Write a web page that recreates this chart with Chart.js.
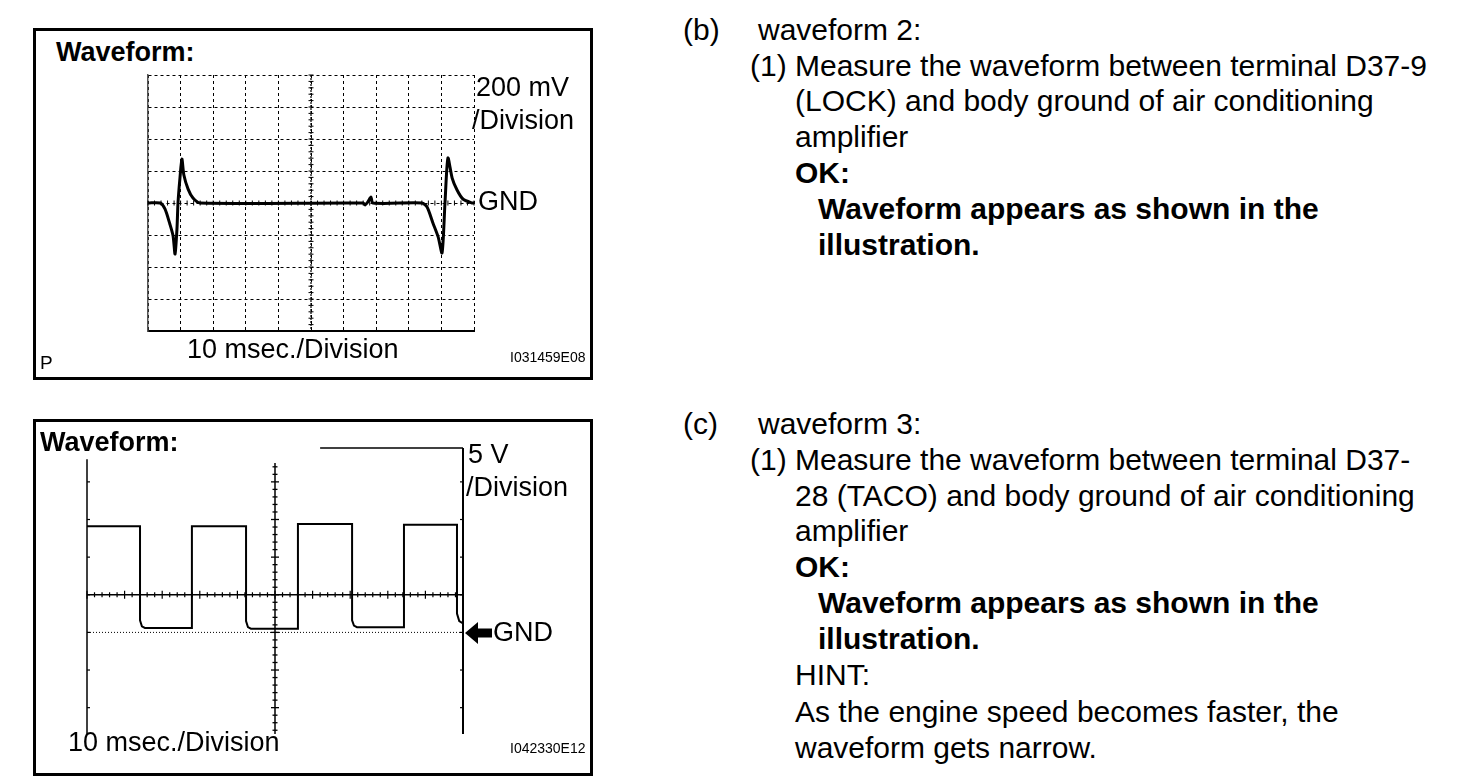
<!DOCTYPE html>
<html>
<head>
<meta charset="utf-8">
<script src="https://cdn.jsdelivr.net/npm/chart.js@4.4.1/dist/chart.umd.min.js"></script>
<style>
	html, body { margin: 0; padding: 0; background: #fff; }
	body { width: 1472px; height: 784px; position: relative; overflow: hidden; font-family: "Liberation Sans", Arial, sans-serif; color: #000; }
	.box { position: absolute; border: 3px solid #000; box-sizing: border-box; }
	.t { position: absolute; white-space: nowrap; line-height: 1; }
	.b { font-weight: bold; }
	.lbl { font-size: 27px; }
	.rt { font-size: 30px; }
	.code { font-size: 14px; }
	canvas { position: absolute; }
</style>
</head>
<body>

<div class="box" style="left:33px; top:28px; width:560px; height:352px;"></div>
<div class="box" style="left:33px; top:419px; width:560px; height:357px;"></div>

<canvas id="chart2" width="342" height="272" style="left:140px; top:67px;"></canvas>
<canvas id="chart3" width="392" height="302" style="left:79px; top:440px;"></canvas>

<!-- labels, waveform 2 box -->
<div class="t lbl b" style="left:56px; top:39px;">Waveform:</div>
<div class="t lbl" style="left:476px; top:74px;">200 mV</div>
<div class="t lbl" style="left:472px; top:107px;">/Division</div>
<div class="t lbl" style="left:478px; top:188px;">GND</div>
<div class="t lbl" style="left:187px; top:336px;">10 msec./Division</div>
<div class="t" style="left:40px; top:353px; font-size:19px;">P</div>
<div class="t code" style="left:510px; top:350px;">I031459E08</div>

<!-- labels, waveform 3 box -->
<div class="t lbl b" style="left:40px; top:429px;">Waveform:</div>
<div class="t lbl" style="left:468px; top:441px;">5 V</div>
<div class="t lbl" style="left:466px; top:474px;">/Division</div>
<svg style="position:absolute; left:464px; top:620px;" width="30" height="26">
	<polygon points="1,13 14,2 14,8.5 28,8.5 28,17.5 14,17.5 14,24" fill="#000"/>
</svg>
<div class="t lbl" style="left:493px; top:619px;">GND</div>
<div class="t lbl" style="left:68px; top:729px;">10 msec./Division</div>
<div class="t code" style="left:510px; top:741px;">I042330E12</div>

<!-- text column -->
<div class="t rt" style="left:683px; top:15px;">(b)</div>
<div class="t rt" style="left:758px; top:15px;">waveform 2:</div>
<div class="t rt" style="left:750px; top:51px;">(1)</div>
<div class="t rt" style="left:795px; top:51px;">Measure the waveform between terminal D37-9</div>
<div class="t rt" style="left:795px; top:86px;">(LOCK) and body ground of air conditioning</div>
<div class="t rt" style="left:795px; top:122px;">amplifier</div>
<div class="t rt b" style="left:795px; top:158px;">OK:</div>
<div class="t rt b" style="left:818px; top:194px;">Waveform appears as shown in the</div>
<div class="t rt b" style="left:818px; top:230px;">illustration.</div>

<div class="t rt" style="left:683px; top:409px;">(c)</div>
<div class="t rt" style="left:758px; top:409px;">waveform 3:</div>
<div class="t rt" style="left:750px; top:445px;">(1)</div>
<div class="t rt" style="left:795px; top:445px;">Measure the waveform between terminal D37-</div>
<div class="t rt" style="left:795px; top:481px;">28 (TACO) and body ground of air conditioning</div>
<div class="t rt" style="left:795px; top:516px;">amplifier</div>
<div class="t rt b" style="left:795px; top:552px;">OK:</div>
<div class="t rt b" style="left:818px; top:588px;">Waveform appears as shown in the</div>
<div class="t rt b" style="left:818px; top:624px;">illustration.</div>
<div class="t rt" style="left:795px; top:660px;">HINT:</div>
<div class="t rt" style="left:795px; top:697px;">As the engine speed becomes faster, the</div>
<div class="t rt" style="left:795px; top:733px;">waveform gets narrow.</div>

<script>
'use strict';

// waveform 2 (LOCK): time in msec, voltage in mV
var lockTime = [0, 3.7, 5.2, 6.7, 7.7, 8.3, 8.9, 9.2, 9.8, 10.4, 11.0, 12.3, 13.8, 16.0,
	66.0, 66.6, 67.4, 68.4, 69.0, 84.0, 85.6, 87.4, 89.0, 90.2, 91.1, 92.0, 93.3, 94.8, 96.6, 99.4, 100];
var lockMv = [0, 0, -37, -131, -206, -319, -156, 0, 156, 275, 175, 87, 31, 0,
	0, -12, 5, 37, 0, 0, -25, -125, -212, -312, 0, 281, 156, 81, 25, 0, 0];

// waveform 3 (TACO): time in msec, voltage in V
var tacoTime = [0, 14.1, 14.1, 14.6, 15.4, 27.9, 27.9,
	42.3, 42.3, 42.8, 43.6, 56.1, 56.1,
	70.5, 70.5, 71.0, 71.8, 84.3, 84.3,
	98.4, 98.4, 99.0, 100];
var tacoV = [14.1, 14.1, 1.6, 0.8, 0.6, 0.6, 14.1,
	14.1, 1.5, 0.7, 0.5, 0.5, 14.4,
	14.4, 1.6, 0.9, 0.7, 0.7, 14.3,
	14.3, 2.5, 1.5, 1.2];

// scale settings (divisions)
var msPerDiv = 10;
var mvPerDiv = 200;
var vPerDiv = 5;

function toPoints(xs, ys) {
	var pts = [];
	for (var i = 0; i < xs.length; i++) pts.push({x: xs[i], y: ys[i]});
	return pts;
}

function line(ctx, x1, y1, x2, y2, w, dash) {
	ctx.save();
	ctx.lineWidth = w;
	ctx.strokeStyle = '#000';
	ctx.setLineDash(dash || []);
	ctx.beginPath();
	ctx.moveTo(x1, y1);
	ctx.lineTo(x2, y2);
	ctx.stroke();
	ctx.restore();
}

// little tick marks on the centre lines of the top scope screen
var centreTicks = {
	id: 'centreTicks',
	beforeDatasetsDraw: function (chart) {
		var ctx = chart.ctx, x = chart.scales.x, y = chart.scales.y;
		var cx = x.getPixelForValue(50), cy = y.getPixelForValue(0);
		line(ctx, cx, y.top, cx, y.bottom, 1.2, [2, 1]);
		for (var v = y.min; v <= y.max; v += mvPerDiv / 5) {
			var py = y.getPixelForValue(v);
			line(ctx, cx - 2.5, py, cx + 2.5, py, 1);
		}
		for (var t = x.min; t <= x.max; t += msPerDiv / 5) {
			var px = x.getPixelForValue(t);
			line(ctx, px, cy - 2.5, px, cy + 2.5, 1);
		}
	}
};

var chart2 = new Chart(document.getElementById('chart2').getContext('2d'), {
	type: 'line',
	data: {
		datasets: [{
			data: toPoints(lockTime, lockMv),
			borderColor: '#000',
			borderWidth: 3,
			pointRadius: 0,
			tension: 0.25,
			fill: false
		}]
	},
	options: {
		responsive: false,
		animation: false,
		layout: { padding: 8 },
		plugins: { legend: { display: false }, tooltip: { enabled: false } },
		scales: {
			x: {
				type: 'linear', min: 0, max: 100,
				ticks: { display: false, stepSize: msPerDiv },
				grid: { color: '#000', lineWidth: 1, drawTicks: false },
				border: { display: true, color: '#000', width: 2, dash: [3, 3] }
			},
			y: {
				type: 'linear', min: -800, max: 800,
				ticks: { display: false, stepSize: mvPerDiv },
				grid: { color: '#000', lineWidth: 1, drawTicks: false },
				border: { display: true, color: '#555', width: 1.5, dash: [3, 3] }
			}
		}
	},
	plugins: [centreTicks]
});

// axes of the lower scope picture
var scopeAxes = {
	id: 'scopeAxes',
	beforeDatasetsDraw: function (chart) {
		var ctx = chart.ctx, x = chart.scales.x, y = chart.scales.y;
		var X = function (v) { return x.getPixelForValue(v); };
		var Y = function (v) { return y.getPixelForValue(v); };
		var bottom = y.min;
		// GND reference, dotted
		line(ctx, X(0), Y(0), X(100), Y(0), 1, [1, 2]);
		// frame pieces
		line(ctx, X(0), Y(bottom), X(0), Y(23), 1.5);
		line(ctx, X(100), Y(bottom), X(100), Y(y.max), 2);
		line(ctx, X(62), Y(y.max), X(100), Y(y.max), 1.3);
		// centre axes
		line(ctx, X(50), Y(bottom), X(50), Y(22.5), 1.5);
		line(ctx, X(0), Y(vPerDiv), X(100), Y(vPerDiv), 1.5);
		var v, t, len;
		for (v = -13; v <= 22; v += 1) {
			len = (v % vPerDiv === 0) ? 4 : 2.5;
			line(ctx, X(50) - len, Y(v), X(50) + len, Y(v), 1.3);
		}
		for (t = 0; t <= 100; t += msPerDiv / 5) {
			len = (t % msPerDiv === 0) ? 4 : 2.5;
			line(ctx, X(t), Y(vPerDiv) - len, X(t), Y(vPerDiv) + len, 1.2);
		}
		for (v = -10; v <= 20; v += vPerDiv) {
			line(ctx, X(0), Y(v), X(0) + 3, Y(v), 1.2);
			line(ctx, X(100) - 3, Y(v), X(100), Y(v), 1.2);
		}
	}
};

var chart3 = new Chart(document.getElementById('chart3').getContext('2d'), {
	type: 'line',
	data: {
		datasets: [{
			data: toPoints(tacoTime, tacoV),
			borderColor: '#000',
			borderWidth: 2,
			pointRadius: 0,
			tension: 0,
			fill: false
		}]
	},
	options: {
		responsive: false,
		animation: false,
		layout: { padding: 8 },
		plugins: { legend: { display: false }, tooltip: { enabled: false } },
		scales: {
			x: { type: 'linear', min: 0, max: 100, display: false },
			y: { type: 'linear', min: -13.5, max: 24.5, display: false }
		}
	},
	plugins: [scopeAxes]
});
</script>
</body>
</html>
